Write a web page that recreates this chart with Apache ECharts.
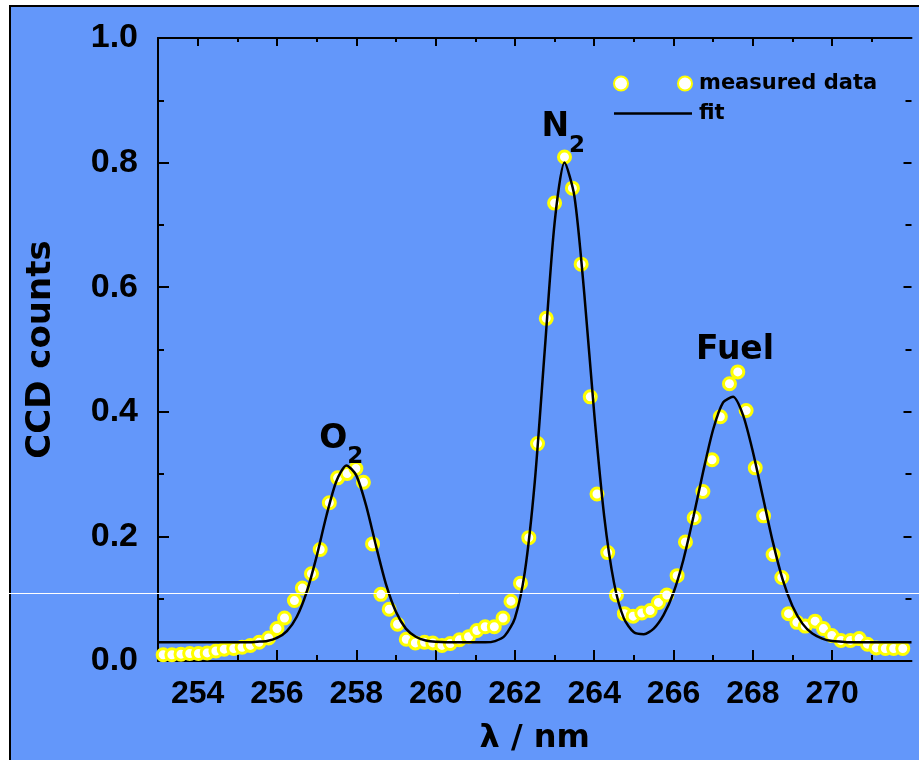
<!DOCTYPE html>
<html>
<head>
<meta charset="utf-8">
<script src="https://cdn.jsdelivr.net/npm/echarts@6/dist/echarts.min.js"></script>
<style>html,body{margin:0;padding:0;background:#fff}#c{width:919px;height:760px}</style>
</head>
<body>
<div id="c"></div>
<script>
// ---- data ----
const measuredX = [253.13,253.35,253.58,253.80,254.02,254.24,254.46,254.67,254.91,255.12,255.33,255.55,255.79,256.00,256.19,256.44,256.64,256.87,257.09,257.32,257.53,257.77,257.99,258.18,258.41,258.62,258.83,259.04,259.26,259.49,259.72,259.93,260.16,260.37,260.60,260.83,261.04,261.25,261.48,261.70,261.90,262.14,262.35,262.57,262.79,263.00,263.25,263.45,263.67,263.90,264.07,264.34,264.56,264.76,264.98,265.20,265.41,265.62,265.83,266.09,266.30,266.52,266.74,266.97,267.18,267.41,267.62,267.83,268.06,268.27,268.51,268.73,268.90,269.11,269.32,269.57,269.78,269.99,270.22,270.46,270.68,270.89,271.11,271.34,271.55,271.78,272.01];
const measuredY = [0.010,0.010,0.011,0.012,0.012,0.013,0.016,0.019,0.020,0.022,0.025,0.030,0.037,0.052,0.069,0.097,0.117,0.140,0.179,0.254,0.294,0.301,0.309,0.287,0.188,0.107,0.083,0.059,0.035,0.029,0.030,0.029,0.025,0.028,0.034,0.039,0.049,0.055,0.055,0.069,0.096,0.125,0.198,0.349,0.550,0.735,0.809,0.759,0.637,0.424,0.268,0.174,0.106,0.076,0.072,0.077,0.081,0.094,0.106,0.137,0.191,0.230,0.272,0.323,0.392,0.445,0.464,0.402,0.310,0.233,0.171,0.134,0.076,0.062,0.056,0.064,0.052,0.041,0.033,0.033,0.036,0.027,0.021,0.020,0.020,0.020,0.027];
const fitX = [253.00,253.50,254.00,254.50,255.00,255.25,255.50,255.75,256.00,256.25,256.50,256.75,257.00,257.25,257.50,257.75,258.00,258.25,258.50,258.75,259.00,259.25,259.50,259.75,260.00,260.50,261.00,261.25,261.50,261.75,262.00,262.25,262.50,262.75,263.00,263.25,263.50,263.75,264.00,264.25,264.50,264.75,265.00,265.25,265.50,265.75,266.00,266.25,266.50,266.75,267.00,267.25,267.50,267.75,268.00,268.25,268.50,268.75,269.00,269.25,269.50,269.75,270.00,270.25,270.50,271.00,271.50,272.00];
const fitY = [0.030,0.030,0.030,0.030,0.030,0.030,0.031,0.032,0.037,0.048,0.071,0.111,0.168,0.234,0.289,0.314,0.298,0.249,0.184,0.123,0.079,0.052,0.039,0.033,0.031,0.030,0.030,0.030,0.032,0.041,0.069,0.143,0.287,0.497,0.703,0.800,0.746,0.589,0.397,0.233,0.125,0.068,0.046,0.043,0.052,0.074,0.110,0.163,0.231,0.305,0.372,0.415,0.424,0.395,0.336,0.264,0.192,0.131,0.088,0.060,0.044,0.036,0.032,0.031,0.030,0.030,0.030,0.030];
const xMajorTicks = [254,256,258,260,262,264,266,268,270];
const xMinorTicks = [255,257,259,261,263,265,267,269,271];
const peakLabels = [
  {x: 257.62, y: 0.356, main: 'O', sub: '2'},
  {x: 263.22, y: 0.856, main: 'N', sub: '2'},
  {x: 267.55, y: 0.498, main: 'Fuel', sub: ''}
];

const BLUE = '#6397fa';
const FONT = 'DejaVu Sans';
const TICKFONT = 'Liberation Sans';

const chart = echarts.init(document.getElementById('c'), null, {renderer: 'canvas'});

const axisLineStyle = {color: '#000', width: 2};
function xAxisBase(pos, ticks, len, line) {
  return {
    type: 'value', position: pos, min: 253, max: 272, gridIndex: 0,
    axisLine: {show: line, onZero: false, lineStyle: axisLineStyle},
    axisTick: {show: true, inside: true, length: len, customValues: ticks, lineStyle: {color: '#000', width: 2}},
    axisLabel: {show: false},
    splitLine: {show: false}
  };
}
const xMain = xAxisBase('bottom', xMajorTicks, 11, true);
xMain.axisLabel = {show: true, customValues: xMajorTicks, color: '#000', fontFamily: TICKFONT, fontWeight: 'bold', fontSize: 32, margin: 17};
xMain.name = 'λ / nm';
xMain.nameLocation = 'middle';
xMain.nameGap = 62;
xMain.nameTextStyle = {color: '#000', fontFamily: FONT, fontSize: 32, fontWeight: 'bold'};

const option = {
  backgroundColor: '#ffffff',
  animation: false,
  graphic: [
    {type: 'rect', z: -100, silent: true, shape: {x: 10, y: 6, width: 930, height: 780}, style: {fill: BLUE, stroke: '#000', lineWidth: 2}},
    {type: 'line', z: 100, silent: true, shape: {x1: 0, y1: 593.5, x2: 919, y2: 593.5}, style: {stroke: '#ffffff', lineWidth: 1}}
  ],
  grid: {left: 158, right: 7.5, top: 38, bottom: 95, containLabel: false},
  legend: {
    orient: 'vertical', left: 608, top: 68, itemWidth: 78, itemHeight: 14, itemGap: 9,
    textStyle: {color: '#000', fontFamily: FONT, fontWeight: 'bold', fontSize: 21, padding: [0, 0, 0, 2]},
    data: [
      {name: 'measured data', icon: 'path://M0,7a7,7 0 1,0 14,0a7,7 0 1,0 -14,0zM64,7a7,7 0 1,0 14,0a7,7 0 1,0 -14,0z'},
      {name: 'fit', icon: 'path://M0,0H64V2.2H0z'}
    ]
  },
  xAxis: [
    xMain,
    xAxisBase('bottom', xMinorTicks, 6, false),
    xAxisBase('top', xMajorTicks, 8, true),
    xAxisBase('top', xMinorTicks, 4, false)
  ],
  yAxis: [
    {
      type: 'value', position: 'left', min: 0, max: 1, interval: 0.2,
      axisLine: {show: true, onZero: false, lineStyle: axisLineStyle},
      axisTick: {show: true, inside: true, length: 11, lineStyle: {color: '#000', width: 2}},
      minorTick: {show: true, splitNumber: 2, length: 6, lineStyle: {color: '#000', width: 2}},
      axisLabel: {color: '#000', fontFamily: TICKFONT, fontWeight: 'bold', fontSize: 34, margin: 20, formatter: v => v.toFixed(1)},
      splitLine: {show: false},
      name: 'CCD counts', nameLocation: 'middle', nameGap: 100,
      nameTextStyle: {color: '#000', fontFamily: FONT, fontSize: 34, fontWeight: 'bold'}
    },
    {
      type: 'value', position: 'right', min: 0, max: 1, interval: 0.2,
      axisLine: {show: false, onZero: false},
      axisTick: {show: true, inside: true, length: 8, lineStyle: {color: '#000', width: 2}},
      minorTick: {show: true, splitNumber: 2, length: 6, lineStyle: {color: '#000', width: 2}},
      axisLabel: {show: false},
      splitLine: {show: false}
    }
  ],
  series: [
    {
      name: 'measured data', type: 'scatter', z: 2,
      symbol: 'circle', symbolSize: 12,
      itemStyle: {color: '#ffffff', borderColor: '#ffff00', borderWidth: 3, opacity: 1},
      data: measuredX.map((x, i) => [x, measuredY[i]])
    },
    {
      name: 'fit', type: 'line', z: 3, smooth: 0.25,
      symbol: 'none', showSymbol: false,
      lineStyle: {color: '#000', width: 2.5},
      itemStyle: {color: '#000'},
      data: fitX.map((x, i) => [x, fitY[i]])
    },
    {
      name: 'labels', type: 'scatter', z: 4, symbolSize: 0, silent: true,
      itemStyle: {color: '#000', opacity: 1},
      label: {
        show: true, position: 'inside', color: '#000', opacity: 1, textBorderWidth: 0,
        formatter: p => '{m|' + p.data.main + '}' + (p.data.sub ? '{s|' + p.data.sub + '}' : ''),
        rich: {
          m: {fontFamily: FONT, fontSize: 33, color: '#000', fontWeight: 'bold', verticalAlign: 'bottom'},
          s: {fontFamily: FONT, fontSize: 23, color: '#000', fontWeight: 'bold', verticalAlign: 'bottom', padding: [0, 0, -13, 0]}
        }
      },
      data: peakLabels.map(d => ({value: [d.x, d.y], main: d.main, sub: d.sub}))
    }
  ]
};
chart.setOption(option);
</script>
</body>
</html>
